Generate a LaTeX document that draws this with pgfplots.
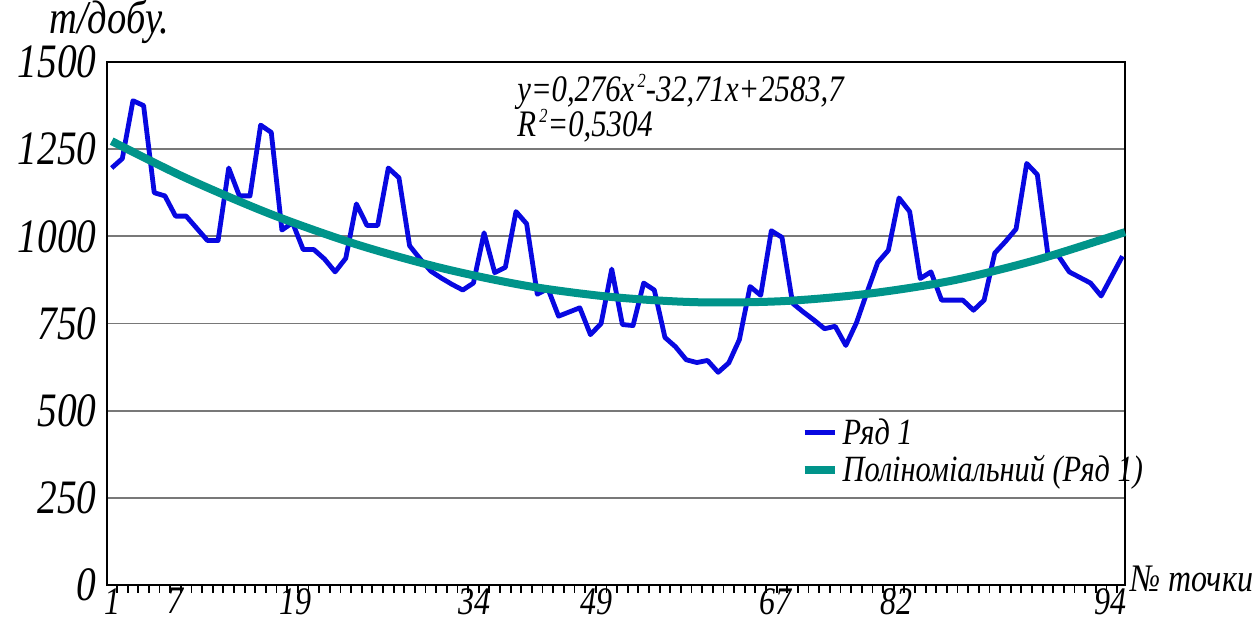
\documentclass[border=0pt]{standalone}
\usepackage{pgfplots}
\pgfplotsset{compat=1.18}
\usepackage{pgfplotstable}
\usepackage{fontspec}
\setmainfont{Liberation Serif}[FakeStretch=0.82]
\definecolor{serblue}{RGB}{8,8,225}
\definecolor{trendc}{RGB}{0,148,138}
\definecolor{gridgray}{RGB}{120,120,120}
\newcommand{\sq}{\raisebox{0.85ex}{\fontsize{10}{10}\selectfont\,2}}

\pgfplotstableread{
i v
1 1196
2 1223
3 1389
4 1375
5 1125
6 1116
7 1058
8 1058
9 1023
10 988
11 988
12 1196
13 1116
14 1116
15 1319
16 1298
17 1018
18 1039
19 962
20 962
21 935
22 898
23 937
24 1093
25 1031
26 1031
27 1196
28 1168
29 973
30 935
31 900
32 880
33 862
34 846
35 866
36 1010
37 896
38 911
39 1071
40 1036
41 834
42 850
43 771
44 783
45 795
46 718
47 750
48 906
49 747
50 744
51 866
52 846
53 710
54 683
55 646
56 638
57 644
58 610
59 637
60 704
61 856
62 831
63 1016
64 997
65 808
66 783
67 760
68 735
69 742
70 687
71 752
72 840
73 925
74 960
75 1110
76 1071
77 879
78 898
79 817
80 817
81 817
82 788
83 817
84 952
85 985
86 1021
87 1209
88 1177
89 946
90 943
91 898
92 882
93 866
94 829
95 886
96 943
}\seriesone

\pgfplotstableread{
i v
1 1273
8 1167
16 1063
24 977
32 909
40 858
48 826
56 811
64 814
72 835
80 873
88 933
96.24 1012
}\trendline

\begin{document}
\begin{tikzpicture}
\useasboundingbox (-53.5pt,-18pt) rectangle (574pt,292.5pt);
\begin{axis}[
  at={(0pt,0pt)}, anchor=south west,
  scale only axis,
  width=509pt, height=261.5pt,
  xmin=0.56, xmax=96.24, ymin=0, ymax=1500,
  ytick={0,250,500,750,1000,1250,1500},
  yticklabels={0,250,500,750,1000,1250,1500},
  xtick={1.1,7,18.3,35.1,46.6,63.4,74.8,94.9},
  xticklabels={1,7,19,34,49,67,82,94},
  major tick length=0pt,
  xtick pos=bottom, ytick pos=left,
  ytick style={draw=none},
  xtick style={draw=none},
  ymajorgrids,
  grid style={gridgray, line width=0.9pt},
  axis line style={black, line width=0.9pt},
  yticklabel style={font=\itshape\fontsize{24}{24}\selectfont, inner sep=0pt, xshift=-5pt},
  xticklabel style={font=\itshape\fontsize{19.5}{19.5}\selectfont, inner sep=0pt, yshift=-1.5pt},
  legend style={draw=none, fill=none, at={(axis description cs:0.681,0.327)}, anchor=north west,
    font=\itshape\fontsize{18.5}{19}\selectfont, row sep=0pt, inner sep=0pt},
  legend cell align=left,
  legend image code/.code={\draw[#1] (0pt,0pt) -- (15pt,0pt);},
  clip=false,
]
\addplot[serblue, line width=2.4pt, line join=round] table[x=i, y=v] {\seriesone};
\addlegendentry{Ряд 1}
\addplot[trendc, line width=4pt, smooth] table[x=i, y=v] {\trendline};
\addlegendentry{Поліноміальний (Ряд 1)}
\pgfplotsinvokeforeach{1,...,95}{
  \draw[black, line width=0.9pt] (axis cs:#1.5,0) -- ([yshift=-4pt]axis cs:#1.5,0);
}
\end{axis}
\node[anchor=base west, inner sep=0pt, font=\itshape\fontsize{18.7}{19}\selectfont] at (205pt,241.5pt) {y=0,276x\sq-32,71x+2583,7};
\node[anchor=base west, inner sep=0pt, font=\itshape\fontsize{18.7}{19}\selectfont] at (205pt,224pt) {R\sq=0,5304};
\node[anchor=base west, inner sep=0pt, font=\itshape\fontsize{23.5}{24}\selectfont] at (-29pt,275.5pt) {т/добу.};
\node[anchor=base west, inner sep=0pt, font=\itshape\fontsize{19.5}{19.5}\selectfont] at (511.5pt,-3.5pt) {№ точки};
\end{tikzpicture}
\end{document}
